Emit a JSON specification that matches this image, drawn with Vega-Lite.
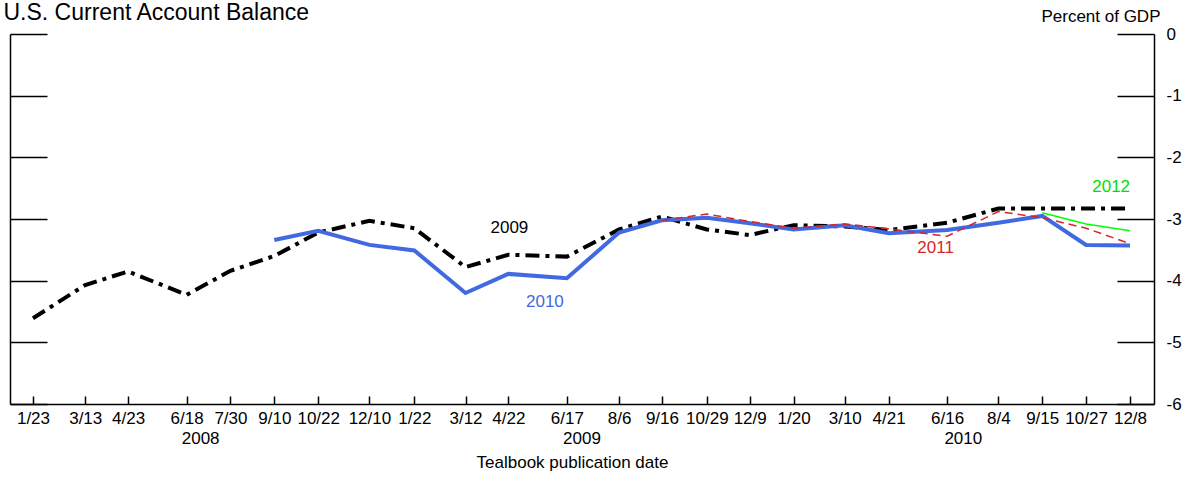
{
  "$schema": "https://vega.github.io/schema/vega-lite/v6.json",
  "width": 1144,
  "height": 370,
  "autosize": {"type": "none"},
  "padding": {"left": 10, "top": 34, "right": 34, "bottom": 73},
  "background": "white",
  "config": {
    "font": "Liberation Sans",
    "view": {"stroke": null},
    "axis": {"domainColor": "black", "tickColor": "black", "labelColor": "black", "titleColor": "black", "grid": false, "labelFont": "Liberation Sans", "titleFont": "Liberation Sans", "titleFontWeight": "normal", "domainWidth": 1.5, "tickWidth": 1.5}
  },
  "datasets": {
    "series": [
      {"series": "2009", "date": "2008-01-23", "value": -4.61},
      {"series": "2009", "date": "2008-03-13", "value": -4.07},
      {"series": "2009", "date": "2008-04-23", "value": -3.85},
      {"series": "2009", "date": "2008-06-18", "value": -4.23},
      {"series": "2009", "date": "2008-07-30", "value": -3.84},
      {"series": "2009", "date": "2008-09-10", "value": -3.60},
      {"series": "2009", "date": "2008-10-22", "value": -3.22},
      {"series": "2009", "date": "2008-12-10", "value": -3.03},
      {"series": "2009", "date": "2009-01-22", "value": -3.15},
      {"series": "2009", "date": "2009-03-12", "value": -3.78},
      {"series": "2009", "date": "2009-04-22", "value": -3.58},
      {"series": "2009", "date": "2009-06-17", "value": -3.61},
      {"series": "2009", "date": "2009-08-06", "value": -3.17},
      {"series": "2009", "date": "2009-09-16", "value": -2.96},
      {"series": "2009", "date": "2009-10-29", "value": -3.17},
      {"series": "2009", "date": "2009-12-09", "value": -3.26},
      {"series": "2009", "date": "2010-01-20", "value": -3.10},
      {"series": "2009", "date": "2010-03-10", "value": -3.12},
      {"series": "2009", "date": "2010-04-21", "value": -3.18},
      {"series": "2009", "date": "2010-06-16", "value": -3.06},
      {"series": "2009", "date": "2010-08-04", "value": -2.83},
      {"series": "2009", "date": "2010-09-15", "value": -2.83},
      {"series": "2009", "date": "2010-10-27", "value": -2.83},
      {"series": "2009", "date": "2010-12-08", "value": -2.83},
      {"series": "2010", "date": "2008-09-10", "value": -3.34},
      {"series": "2010", "date": "2008-10-22", "value": -3.19},
      {"series": "2010", "date": "2008-12-10", "value": -3.42},
      {"series": "2010", "date": "2009-01-22", "value": -3.51},
      {"series": "2010", "date": "2009-03-12", "value": -4.20},
      {"series": "2010", "date": "2009-04-22", "value": -3.89},
      {"series": "2010", "date": "2009-06-17", "value": -3.96},
      {"series": "2010", "date": "2009-08-06", "value": -3.22},
      {"series": "2010", "date": "2009-09-16", "value": -3.02},
      {"series": "2010", "date": "2009-10-29", "value": -2.98},
      {"series": "2010", "date": "2009-12-09", "value": -3.07},
      {"series": "2010", "date": "2010-01-20", "value": -3.17},
      {"series": "2010", "date": "2010-03-10", "value": -3.10},
      {"series": "2010", "date": "2010-04-21", "value": -3.23},
      {"series": "2010", "date": "2010-06-16", "value": -3.18},
      {"series": "2010", "date": "2010-08-04", "value": -3.06},
      {"series": "2010", "date": "2010-09-15", "value": -2.95},
      {"series": "2010", "date": "2010-10-27", "value": -3.42},
      {"series": "2010", "date": "2010-12-08", "value": -3.43},
      {"series": "2011", "date": "2009-09-16", "value": -3.02},
      {"series": "2011", "date": "2009-10-29", "value": -2.92},
      {"series": "2011", "date": "2009-12-09", "value": -3.04},
      {"series": "2011", "date": "2010-01-20", "value": -3.15},
      {"series": "2011", "date": "2010-03-10", "value": -3.08},
      {"series": "2011", "date": "2010-04-21", "value": -3.16},
      {"series": "2011", "date": "2010-06-16", "value": -3.28},
      {"series": "2011", "date": "2010-08-04", "value": -2.88},
      {"series": "2011", "date": "2010-09-15", "value": -2.98},
      {"series": "2011", "date": "2010-10-27", "value": -3.15},
      {"series": "2011", "date": "2010-12-08", "value": -3.40},
      {"series": "2012", "date": "2010-09-15", "value": -2.90},
      {"series": "2012", "date": "2010-10-27", "value": -3.08},
      {"series": "2012", "date": "2010-12-08", "value": -3.19}
    ],
    "labels": [
      {"label": "2009", "date": "2009-04-23", "value": -3.15},
      {"label": "2010", "date": "2009-05-27", "value": -4.35},
      {"label": "2011", "date": "2010-06-05", "value": -3.47},
      {"label": "2012", "date": "2010-11-20", "value": -2.48}
    ]
  },
  "layer": [
    {
      "data": {"name": "series"},
      "transform": [{"filter": "datum.series === '2009'"}],
      "mark": {"type": "line", "color": "black", "strokeWidth": 4, "strokeDash": [14, 6, 4, 6]},
      "encoding": {
        "x": {"field": "date", "type": "temporal",
          "scale": {"type": "utc", "domain": [{"year": 2008, "month": 1, "date": 1, "utc": true}, {"year": 2010, "month": 12, "date": 31, "utc": true}]},
          "axis": {"orient": "bottom", "title": null, "format": "%-m/%-d", "tickSize": -8, "labelPadding": 14, "labelFontSize": 17, "labelOverlap": false, "labelFlush": false,
            "values": [
              {"year": 2008, "month": 1, "date": 23, "utc": true},
              {"year": 2008, "month": 3, "date": 13, "utc": true},
              {"year": 2008, "month": 4, "date": 23, "utc": true},
              {"year": 2008, "month": 6, "date": 18, "utc": true},
              {"year": 2008, "month": 7, "date": 30, "utc": true},
              {"year": 2008, "month": 9, "date": 10, "utc": true},
              {"year": 2008, "month": 10, "date": 22, "utc": true},
              {"year": 2008, "month": 12, "date": 10, "utc": true},
              {"year": 2009, "month": 1, "date": 22, "utc": true},
              {"year": 2009, "month": 3, "date": 12, "utc": true},
              {"year": 2009, "month": 4, "date": 22, "utc": true},
              {"year": 2009, "month": 6, "date": 17, "utc": true},
              {"year": 2009, "month": 8, "date": 6, "utc": true},
              {"year": 2009, "month": 9, "date": 16, "utc": true},
              {"year": 2009, "month": 10, "date": 29, "utc": true},
              {"year": 2009, "month": 12, "date": 9, "utc": true},
              {"year": 2010, "month": 1, "date": 20, "utc": true},
              {"year": 2010, "month": 3, "date": 10, "utc": true},
              {"year": 2010, "month": 4, "date": 21, "utc": true},
              {"year": 2010, "month": 6, "date": 16, "utc": true},
              {"year": 2010, "month": 8, "date": 4, "utc": true},
              {"year": 2010, "month": 9, "date": 15, "utc": true},
              {"year": 2010, "month": 10, "date": 27, "utc": true},
              {"year": 2010, "month": 12, "date": 8, "utc": true}
            ]}},
        "y": {"field": "value", "type": "quantitative", "scale": {"domain": [-6, 0]},
          "axis": {"orient": "right", "values": [0, -1, -2, -3, -4, -5, -6], "tickSize": -37, "labelPadding": 49, "labelAlign": "left", "labelBaseline": "middle", "labelFontSize": 17,
            "labelExpr": "datum.value == 0 ? '0' : '-' + abs(datum.value)",
            "title": "Percent of GDP", "titleFontSize": 17, "titleAngle": 0, "titleAlign": "right", "titleBaseline": "alphabetic", "titleX": 6, "titleY": -13}}
      }
    },
    {
      "data": {"name": "series"},
      "transform": [{"filter": "datum.series === '2010'"}],
      "mark": {"type": "line", "color": "#4169E1", "strokeWidth": 4},
      "encoding": {
        "x": {"field": "date", "type": "temporal", "axis": null},
        "y": {"field": "value", "type": "quantitative", "axis": null}
      }
    },
    {
      "data": {"name": "series"},
      "transform": [{"filter": "datum.series === '2011'"}],
      "mark": {"type": "line", "color": "#D62728", "strokeWidth": 1.5, "strokeDash": [8, 5]},
      "encoding": {
        "x": {"field": "date", "type": "temporal", "axis": null},
        "y": {"field": "value", "type": "quantitative", "axis": null}
      }
    },
    {
      "data": {"name": "series"},
      "transform": [{"filter": "datum.series === '2012'"}],
      "mark": {"type": "line", "color": "#00FF00", "strokeWidth": 1.5},
      "encoding": {
        "x": {"field": "date", "type": "temporal", "axis": null},
        "y": {"field": "value", "type": "quantitative", "axis": null}
      }
    },
    {
      "data": {"name": "labels"},
      "mark": {"type": "text", "align": "center", "baseline": "middle", "fontSize": 17, "font": "Liberation Sans"},
      "encoding": {
        "x": {"field": "date", "type": "temporal",
          "axis": {"orient": "bottom", "format": "%Y", "ticks": false, "domain": false, "labelPadding": 26, "labelFontSize": 17, "labelFlush": false,
            "values": [
              {"year": 2008, "month": 7, "date": 1, "utc": true},
              {"year": 2009, "month": 7, "date": 1, "utc": true},
              {"year": 2010, "month": 7, "date": 1, "utc": true}
            ],
            "title": "Tealbook publication date", "titleFontSize": 17, "titleX": 562, "titleY": 63, "titleAlign": "center", "titleBaseline": "alphabetic"}},
        "y": {"field": "value", "type": "quantitative",
          "axis": {"orient": "left", "values": [0, -1, -2, -3, -4, -5, -6], "labels": false, "tickSize": -37,
            "title": "U.S. Current Account Balance", "titleFontSize": 23, "titleAngle": 0, "titleAlign": "left", "titleBaseline": "alphabetic", "titleX": -7, "titleY": -15}},
        "text": {"field": "label"},
        "color": {"field": "label", "type": "nominal", "scale": {"domain": ["2009", "2010", "2011", "2012"], "range": ["black", "#4169E1", "#D62728", "#00E000"]}, "legend": null}
      }
    }
  ],
  "resolve": {"axis": {"x": "independent", "y": "independent"}}
}
